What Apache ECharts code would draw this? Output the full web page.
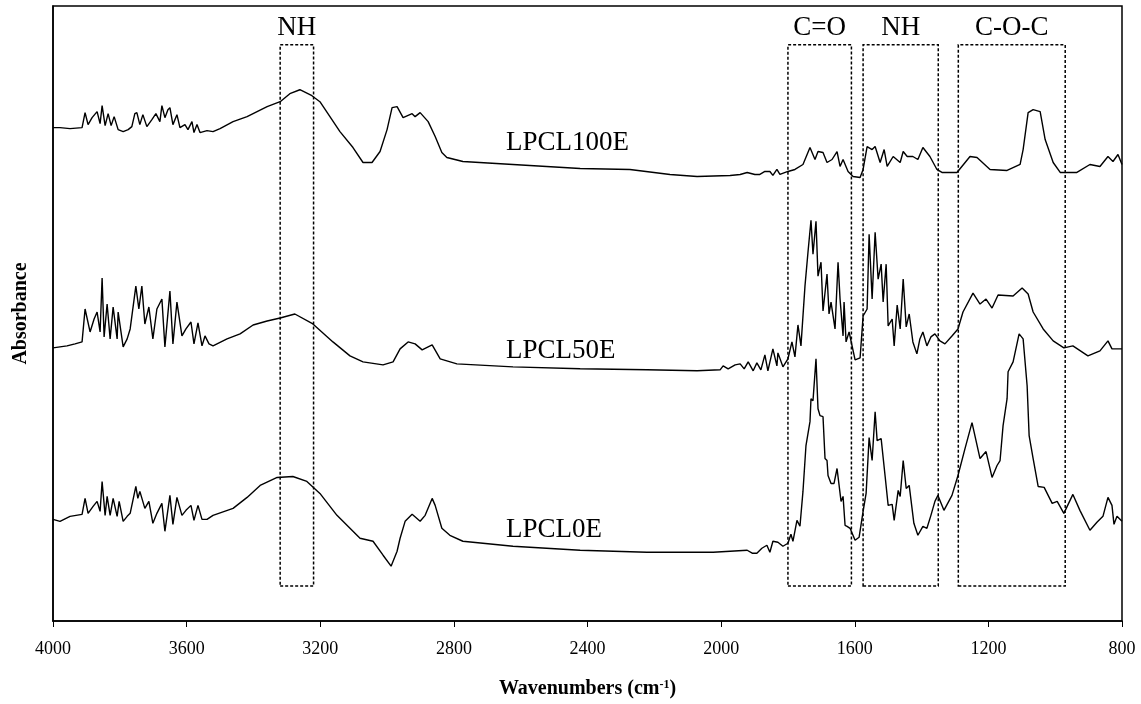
<!DOCTYPE html>
<html>
<head>
<meta charset="utf-8">
<script src="https://cdn.jsdelivr.net/npm/echarts@6/dist/echarts.min.js"></script>
<style>
html,body{margin:0;padding:0;background:#fff;}
#chart{width:1141px;height:704px;}
</style>
</head>
<body>
<div id="chart"></div>
<script>
// ---- Data (wavenumber cm-1, absorbance a.u., spectra offset vertically) ----
const wnLPCL100E = [4000,3979,3949,3913,3904,3895,3883,3868,3859,3853,3844,3835,3826,3817,3805,3790,3775,3764,3755,3749,3740,3731,3719,3704,3692,3680,3674,3665,3656,3650,3641,3629,3620,3605,3596,3584,3578,3569,3560,3539,3521,3500,3461,3419,3359,3320,3291,3261,3225,3201,3141,3102,3072,3045,3021,3000,2985,2970,2952,2925,2916,2901,2877,2856,2836,2821,2773,2623,2422,2273,2153,2072,1973,1943,1922,1899,1884,1869,1854,1845,1833,1824,1800,1779,1755,1734,1719,1710,1695,1683,1668,1653,1644,1635,1620,1605,1584,1575,1563,1548,1539,1524,1512,1503,1485,1464,1455,1443,1426,1411,1396,1375,1354,1339,1294,1255,1234,1195,1144,1105,1096,1081,1066,1045,1030,1006,985,935,896,866,842,827,812,800];
const absLPCL100E = [4.95,4.95,4.94,4.95,5.10,4.98,5.05,5.11,4.99,5.17,4.97,5.09,4.97,5.06,4.93,4.91,4.93,4.96,5.09,5.10,4.98,5.08,4.96,5.03,5.09,5.01,5.17,5.05,5.13,5.15,4.98,5.08,4.95,4.98,4.93,5.01,4.90,4.98,4.90,4.92,4.91,4.94,5.01,5.06,5.16,5.21,5.29,5.33,5.27,5.21,4.91,4.75,4.60,4.60,4.71,4.93,5.15,5.16,5.05,5.09,5.06,5.10,5.01,4.86,4.70,4.65,4.61,4.58,4.54,4.53,4.48,4.46,4.47,4.48,4.50,4.48,4.48,4.51,4.51,4.47,4.53,4.48,4.51,4.53,4.58,4.75,4.63,4.71,4.70,4.60,4.63,4.71,4.56,4.63,4.51,4.46,4.45,4.53,4.76,4.73,4.76,4.60,4.73,4.56,4.66,4.60,4.71,4.66,4.66,4.63,4.75,4.66,4.53,4.50,4.50,4.66,4.65,4.53,4.52,4.58,4.73,5.10,5.13,5.11,4.83,4.60,4.50,4.50,4.58,4.56,4.66,4.61,4.68,4.58];

const wnLPCL50E = [4000,3958,3934,3913,3904,3889,3877,3868,3859,3853,3847,3838,3829,3820,3808,3805,3790,3778,3769,3752,3743,3734,3725,3713,3701,3689,3674,3665,3650,3641,3629,3614,3602,3587,3578,3566,3554,3545,3533,3521,3479,3440,3401,3359,3320,3276,3222,3162,3111,3072,3012,2982,2961,2937,2916,2895,2865,2841,2791,2623,2422,2222,2072,2003,1994,1979,1958,1943,1931,1919,1904,1893,1881,1869,1860,1845,1833,1830,1815,1800,1788,1779,1770,1761,1749,1740,1731,1725,1716,1710,1701,1695,1683,1677,1671,1659,1650,1644,1635,1632,1626,1617,1608,1599,1584,1575,1563,1557,1548,1539,1530,1521,1515,1506,1500,1488,1482,1473,1464,1455,1446,1437,1426,1414,1405,1396,1384,1372,1360,1345,1330,1309,1291,1276,1246,1225,1207,1189,1171,1126,1099,1081,1066,1036,1006,974,947,902,866,842,830,800];
const absLPCL50E = [2.74,2.76,2.78,2.80,3.13,2.90,3.03,3.10,2.90,3.44,2.85,3.18,2.83,3.15,2.83,3.10,2.75,2.83,2.93,3.36,3.13,3.36,2.98,3.15,2.83,3.13,3.23,2.75,3.31,2.78,3.20,2.86,2.93,3.00,2.78,2.99,2.76,2.86,2.78,2.76,2.83,2.88,2.97,3.01,3.04,3.08,2.98,2.80,2.66,2.60,2.57,2.60,2.73,2.80,2.78,2.72,2.77,2.63,2.58,2.55,2.53,2.52,2.51,2.52,2.56,2.53,2.57,2.58,2.53,2.60,2.51,2.59,2.52,2.67,2.51,2.73,2.56,2.69,2.55,2.63,2.80,2.65,2.97,2.76,3.36,3.70,4.02,3.68,4.01,3.46,3.60,3.11,3.48,3.08,3.20,2.93,3.60,3.23,2.86,3.20,2.80,2.90,2.76,2.62,2.64,3.06,3.13,3.88,3.23,3.90,3.43,3.58,3.20,3.58,2.96,3.03,2.76,3.17,2.93,3.43,2.95,3.08,2.80,2.68,2.83,2.90,2.76,2.85,2.88,2.81,2.78,2.86,2.93,3.10,3.29,3.18,3.23,3.14,3.27,3.26,3.34,3.28,3.10,2.93,2.81,2.74,2.76,2.66,2.71,2.81,2.73,2.73];

const wnLPCL0E = [4000,3979,3949,3913,3904,3895,3880,3868,3859,3853,3844,3838,3829,3820,3808,3802,3790,3778,3769,3752,3746,3740,3725,3713,3701,3689,3674,3665,3650,3641,3629,3614,3602,3587,3578,3566,3554,3539,3521,3461,3419,3380,3329,3282,3240,3201,3150,3081,3042,3012,2988,2970,2961,2946,2925,2901,2886,2865,2856,2836,2812,2773,2623,2422,2222,2024,1922,1907,1893,1878,1863,1854,1845,1830,1815,1800,1791,1785,1773,1764,1755,1746,1734,1731,1725,1716,1710,1704,1695,1689,1683,1680,1671,1662,1653,1641,1635,1629,1623,1614,1599,1587,1575,1566,1557,1548,1539,1533,1521,1509,1500,1488,1482,1470,1464,1455,1446,1437,1423,1411,1396,1384,1372,1360,1351,1333,1309,1291,1270,1249,1225,1207,1189,1174,1165,1156,1144,1141,1126,1108,1096,1084,1078,1066,1051,1033,1009,994,974,947,926,896,875,857,842,830,824,815,800];
const absLPCL0E = [1.02,1.00,1.05,1.07,1.23,1.08,1.15,1.20,1.10,1.40,1.06,1.25,1.06,1.23,1.05,1.20,1.00,1.05,1.08,1.35,1.23,1.30,1.13,1.20,0.98,1.08,1.18,0.90,1.26,0.97,1.24,1.06,1.11,1.16,1.01,1.16,1.02,1.02,1.06,1.13,1.24,1.36,1.44,1.45,1.40,1.28,1.06,0.83,0.80,0.66,0.55,0.70,0.83,1.00,1.07,1.00,1.06,1.23,1.16,0.93,0.86,0.80,0.75,0.71,0.69,0.69,0.71,0.68,0.68,0.73,0.76,0.69,0.80,0.79,0.75,0.78,0.87,0.80,1.01,0.95,1.30,1.76,2.00,2.23,2.21,2.63,2.13,2.06,2.05,1.63,1.61,1.46,1.38,1.38,1.53,1.20,1.25,0.96,0.95,0.93,0.81,0.84,1.10,1.28,1.84,1.61,2.10,1.81,1.83,1.45,1.16,1.17,1.01,1.31,1.25,1.61,1.33,1.36,0.98,0.86,0.95,0.93,1.06,1.20,1.26,1.11,1.26,1.46,1.73,1.99,1.63,1.70,1.44,1.56,1.61,1.96,2.23,2.50,2.60,2.88,2.83,2.36,1.86,1.63,1.35,1.34,1.18,1.20,1.08,1.27,1.11,0.91,0.99,1.05,1.24,1.16,0.97,1.05,1.00];

const seriesNames = ['LPCL100E','LPCL50E','LPCL0E'];
const seriesLabelWn = [2644, 2644, 2644];
const seriesLabelAbs = [4.80, 2.71, 0.91];

const bandLabels = ['NH','C=O','NH','C-O-C'];
const bandFrom = [3320, 1800, 1575, 1290];
const bandTo = [3220, 1610, 1350, 970];
const bandAbsLow = 0.35;
const bandAbsHigh = 5.78;

const xTickMin = 800, xTickMax = 4000, xTickStep = 400;
const yMin = 0, yMax = 6.17;
// ---------------------------------------------------------------

const FONT = "'Liberation Serif','Times New Roman',serif";
function zip(a, b) { return a.map((v, i) => [v, b[i]]); }
const allData = [zip(wnLPCL100E, absLPCL100E), zip(wnLPCL50E, absLPCL50E), zip(wnLPCL0E, absLPCL0E)];

const series = allData.map((d, i) => ({
  type: 'line',
  name: seriesNames[i],
  data: d,
  showSymbol: false,
  symbol: 'none',
  silent: true,
  animation: false,
  lineStyle: { color: '#000', width: 1.4 },
  z: 3
}));

// series name labels
series.push({
  type: 'scatter',
  silent: true,
  animation: false,
  symbolSize: 0,
  itemStyle: { color: '#000', opacity: 1 },
  data: seriesNames.map((n, i) => ({ value: [seriesLabelWn[i], seriesLabelAbs[i]], name: n })),
  label: {
    show: true,
    position: 'right',
    distance: 0,
    formatter: p => p.name,
    color: '#000',
    opacity: 1,
    fontFamily: FONT,
    fontSize: 27
  },
  z: 4
});

// dashed band boxes
series.push({
  type: 'line',
  data: [],
  silent: true,
  animation: false,
  markArea: {
    silent: true,
    animation: false,
    itemStyle: {
      color: 'rgba(0,0,0,0)',
      borderColor: '#000',
      borderWidth: 1.5,
      borderType: [3, 2]
    },
    label: {
      show: true,
      position: 'top',
      distance: 3,
      color: '#000',
      fontFamily: FONT,
      fontSize: 27
    },
    emphasis: { disabled: true },
    data: bandLabels.map((lab, i) => [
      { name: lab, xAxis: bandFrom[i], yAxis: bandAbsLow },
      { xAxis: bandTo[i], yAxis: bandAbsHigh }
    ])
  },
  z: 2
});

const chart = echarts.init(document.getElementById('chart'), null, { renderer: 'canvas' });
chart.setOption({
  animation: false,
  backgroundColor: '#fff',
  grid: { left: 53, right: 19, top: 6, bottom: 81, show: true, borderColor: '#000', borderWidth: 1.5, backgroundColor: 'transparent' },
  xAxis: {
    type: 'value',
    inverse: true,
    min: xTickMin,
    max: xTickMax,
    interval: xTickStep,
    name: '{a|Wavenumbers (cm}{s|-1}{a|)}',
    nameLocation: 'middle',
    nameGap: 58,
    nameTextStyle: {
      rich: {
        a: { fontFamily: FONT, fontWeight: 'bold', fontSize: 20, color: '#000' },
        s: { fontFamily: FONT, fontWeight: 'bold', fontSize: 12, color: '#000', verticalAlign: 'top' }
      }
    },
    axisLine: { show: true, lineStyle: { color: '#000', width: 1.5 } },
    axisTick: { show: true, inside: false, length: 6, lineStyle: { color: '#000', width: 1 } },
    axisLabel: { color: '#000', fontFamily: FONT, fontSize: 18, margin: 19, formatter: v => String(v) },
    splitLine: { show: false }
  },
  yAxis: {
    type: 'value',
    min: yMin,
    max: yMax,
    name: 'Absorbance',
    nameLocation: 'middle',
    nameGap: 22,
    nameTextStyle: { fontFamily: FONT, fontWeight: 'bold', fontSize: 20, color: '#000' },
    axisLine: { show: true, lineStyle: { color: '#000', width: 1.5 } },
    axisTick: { show: false },
    axisLabel: { show: false },
    splitLine: { show: false }
  },
  series: series
});
</script>
</body>
</html>
